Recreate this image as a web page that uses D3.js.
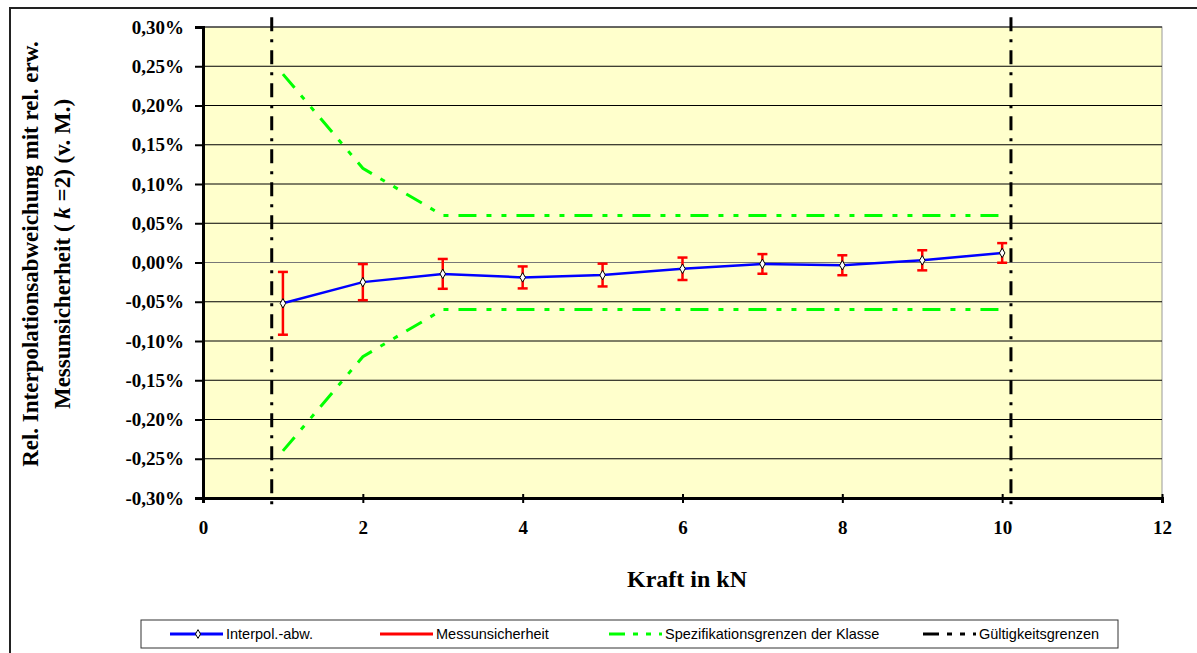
<!DOCTYPE html>
<html>
<head>
<meta charset="utf-8">
<script src="https://cdn.jsdelivr.net/npm/d3@7"></script>
<style>
  body { margin: 0; background: #fff; }
  svg { display: block; }
  .tick text { font-family: "Liberation Serif", serif; font-weight: bold; }
</style>
</head>
<body>
<svg id="chart" width="1197" height="653"></svg>
<script>
// Messpunkte (Kraft in kN) und rel. Interpolationsabweichung in %
const kraft = [1, 2, 3, 4, 5, 6, 7, 8, 9, 10];
const abweichung = [-0.052, -0.025, -0.0145, -0.019, -0.016, -0.008, -0.0018, -0.0035, 0.0028, 0.0122];
const unsicherheit = [0.040, 0.023, 0.019, 0.014, 0.0145, 0.0143, 0.0125, 0.0127, 0.0128, 0.0125];

// Spezifikationsgrenzen der Klasse
const specX = [1, 2, 3, 10];
const specOben = [0.24, 0.12, 0.06, 0.06];
const specUnten = [-0.24, -0.12, -0.06, -0.06];

// Gültigkeitsgrenzen
const gueltigX = [0.86, 10.11];
const gueltigY = [-0.315, 0.3125];

const xTicks = [0, 2, 4, 6, 8, 10, 12];
const yTicks = [-0.30, -0.25, -0.20, -0.15, -0.10, -0.05, 0, 0.05, 0.10, 0.15, 0.20, 0.25, 0.30];

const svg = d3.select('#chart');
const plot = { left: 203, top: 27, right: 1162, bottom: 498 };

const x = d3.scaleLinear().domain([0, 12]).range([plot.left, plot.right]);
const y = d3.scaleLinear().domain([-0.3, 0.3]).range([plot.bottom, plot.top]);

const locale = d3.formatLocale({ decimal: ',', thousands: '.', grouping: [3], currency: ['', '€'], minus: '-' });
const fmt = locale.format('.2f');

// äußerer Rahmen
svg.append('rect')
  .attr('x', 10).attr('y', 8).attr('width', 1200).attr('height', 700)
  .attr('fill', 'none').attr('stroke', '#222').attr('stroke-width', 2);

// Plotfläche
svg.append('rect')
  .attr('x', plot.left).attr('y', plot.top)
  .attr('width', plot.right - plot.left).attr('height', plot.bottom - plot.top)
  .attr('fill', '#ffffcc').attr('stroke', '#999').attr('stroke-width', 1);

// Gitterlinien
svg.append('g')
  .selectAll('line')
  .data(yTicks.filter(d => d > -0.3))
  .enter()
  .append('line')
  .attr('x1', plot.left).attr('x2', plot.right)
  .attr('y1', d => y(d)).attr('y2', d => y(d))
  .attr('stroke', d => d === 0 ? '#777' : '#000')
  .attr('stroke-width', 1);

// Achsen
const yAxis = svg.append('g')
  .attr('transform', `translate(${plot.left},0)`)
  .call(d3.axisLeft(y).tickValues(yTicks).tickFormat(d => fmt(d) + '%').tickSize(8).tickPadding(11));
yAxis.select('.domain').attr('stroke-width', 3);
yAxis.selectAll('.tick line').attr('stroke-width', 2);
yAxis.selectAll('.tick text').attr('font-size', 19).attr('fill', '#000');

const xAxis = svg.append('g')
  .attr('transform', `translate(0,${plot.bottom})`)
  .call(d3.axisBottom(x).tickValues(xTicks).tickFormat(d3.format('d')).tickSize(5).tickPadding(18));
xAxis.select('.domain').attr('stroke-width', 3);
xAxis.selectAll('.tick line').attr('stroke-width', 2).attr('y1', -4);
xAxis.selectAll('.tick text').attr('font-size', 19).attr('fill', '#000');

// Spezifikationsgrenzen
const specLine = d3.line().x(d => x(d[0])).y(d => y(d[1]));
[specOben, specUnten].forEach(arr => {
  svg.append('path')
    .datum(specX.map((k, i) => [k, arr[i]]))
    .attr('d', specLine)
    .attr('fill', 'none')
    .attr('stroke', '#00ff00')
    .attr('stroke-width', 3)
    .attr('stroke-dasharray', '18,10,5,10,5,10');
});

// Gültigkeitsgrenzen
gueltigX.forEach(g => {
  svg.append('line')
    .attr('x1', x(g)).attr('x2', x(g))
    .attr('y1', y(gueltigY[1])).attr('y2', y(gueltigY[0]))
    .attr('stroke', '#000')
    .attr('stroke-width', 3)
    .attr('stroke-dasharray', '14,8,3,8');
});

// Messunsicherheit (Fehlerbalken)
const err = svg.append('g').attr('stroke', '#ff0000').attr('stroke-width', 2.5);
kraft.forEach((k, i) => {
  const lo = y(abweichung[i] - unsicherheit[i]);
  const hi = y(abweichung[i] + unsicherheit[i]);
  err.append('line').attr('x1', x(k)).attr('x2', x(k)).attr('y1', lo).attr('y2', hi);
  err.append('line').attr('x1', x(k) - 5).attr('x2', x(k) + 5).attr('y1', lo).attr('y2', lo);
  err.append('line').attr('x1', x(k) - 5).attr('x2', x(k) + 5).attr('y1', hi).attr('y2', hi);
});

// Interpolationsabweichung
const pts = kraft.map((k, i) => [k, abweichung[i]]);
svg.append('path')
  .datum(pts)
  .attr('d', specLine)
  .attr('fill', 'none')
  .attr('stroke', '#0000ff')
  .attr('stroke-width', 2.5);

svg.selectAll('.marker')
  .data(pts)
  .enter()
  .append('path')
  .attr('class', 'marker')
  .attr('d', d3.symbol().type(d3.symbolDiamond).size(26))
  .attr('transform', d => `translate(${x(d[0])},${y(d[1])})`)
  .attr('fill', '#fff')
  .attr('stroke', '#000')
  .attr('stroke-width', 1);

// Achsentitel
svg.append('text')
  .attr('x', 687).attr('y', 587)
  .attr('text-anchor', 'middle')
  .attr('font-family', '"Liberation Serif", serif')
  .attr('font-weight', 'bold').attr('font-size', 24)
  .text('Kraft in kN');

const yTitle = svg.append('text')
  .attr('transform', 'translate(0,254) rotate(-90)')
  .attr('text-anchor', 'middle')
  .attr('font-family', '"Liberation Serif", serif')
  .attr('font-weight', 'bold').attr('font-size', 23);
yTitle.append('tspan').attr('x', 0).attr('y', 38).text('Rel. Interpolationsabweichung mit rel. erw.');
const l2 = yTitle.append('tspan').attr('x', 0).attr('y', 70);
l2.append('tspan').text('Messunsicherheit ( ');
l2.append('tspan').attr('font-style', 'italic').text('k');
l2.append('tspan').text(' =2)  (v. M.)');

// Legende
const legend = svg.append('g').attr('font-family', '"Liberation Sans", Arial, sans-serif').attr('font-size', 14.5);
legend.append('rect')
  .attr('x', 141).attr('y', 620).attr('width', 977).attr('height', 28)
  .attr('fill', '#fff').attr('stroke', '#333').attr('stroke-width', 1);

const legendItems = [
  { label: 'Interpol.-abw.', color: '#0000ff', x0: 170, dash: null, marker: true },
  { label: 'Messunsicherheit', color: '#ff0000', x0: 380, dash: null, marker: false },
  { label: 'Spezifikationsgrenzen der Klasse', color: '#00ff00', x0: 609, dash: '16,8,5,8,5,8', marker: false },
  { label: 'Gültigkeitsgrenzen', color: '#000', x0: 923, dash: '16,8,5,8,5,8', marker: false }
];
legendItems.forEach(it => {
  legend.append('line')
    .attr('x1', it.x0).attr('x2', it.x0 + 53)
    .attr('y1', 634).attr('y2', 634)
    .attr('stroke', it.color).attr('stroke-width', 3)
    .attr('stroke-dasharray', it.dash);
  if (it.marker) {
    legend.append('path')
      .attr('d', d3.symbol().type(d3.symbolDiamond).size(22))
      .attr('transform', `translate(${it.x0 + 28},634)`)
      .attr('fill', '#fff').attr('stroke', '#000');
  }
  legend.append('text')
    .attr('x', it.x0 + 56).attr('y', 639)
    .text(it.label);
});
</script>
</body>
</html>
